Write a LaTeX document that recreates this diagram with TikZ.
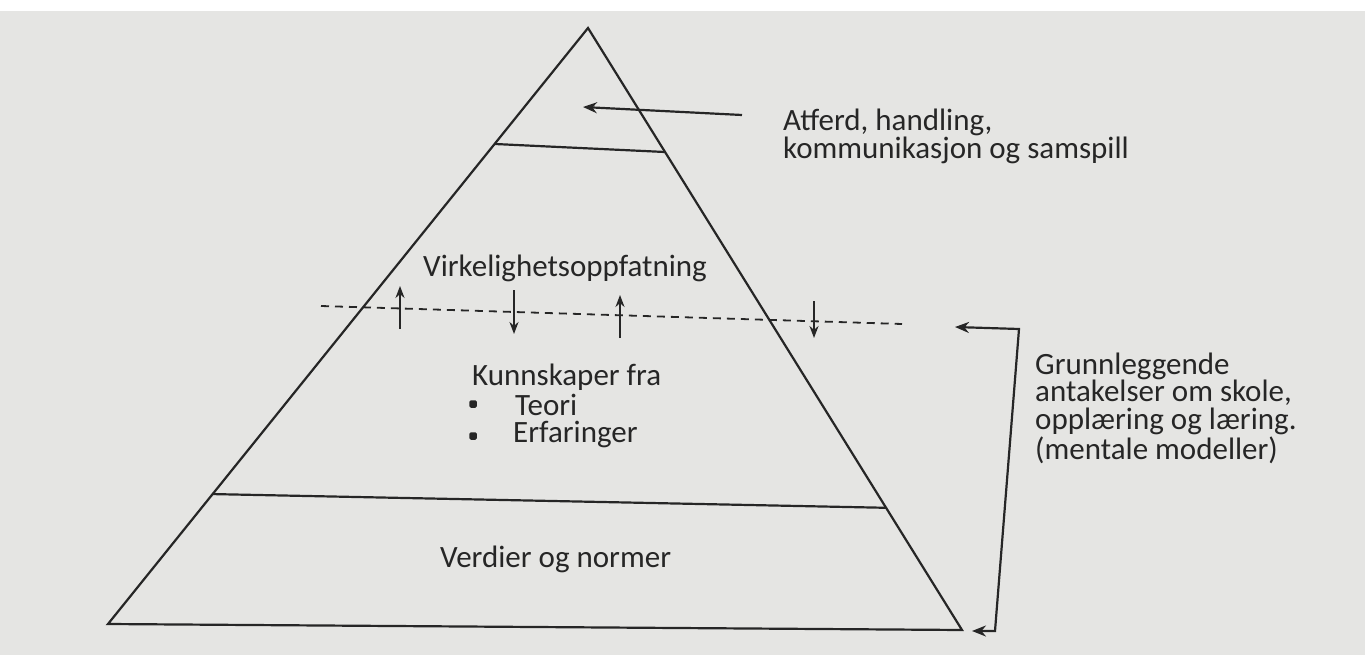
\documentclass[tikz,border=0pt]{standalone}
\usepackage{fontspec}
\setmainfont{Carlito}
\usetikzlibrary{arrows.meta,calc}
\definecolor{ink}{HTML}{262626}
\definecolor{paper}{HTML}{E5E5E3}
\begin{document}
\begin{tikzpicture}[x=1pt,y=-1pt,
  ln/.style={draw=ink, line width=2.2pt},
  lbl/.style={anchor=base west, inner sep=0pt, text=ink, align=left,
              font=\fontsize{31}{27.5}\selectfont},
  arr/.style={draw=ink, line width=2.2pt, -{Stealth[length=12pt,width=9pt]}},
  bigarr/.style={draw=ink, line width=2.2pt, -{Stealth[length=14pt,width=11pt]}},
  dot/.style={rectangle, rounded corners=1.5pt, fill=ink, inner sep=0pt, minimum size=7.5pt},
]
\fill[white] (0,0) rectangle (1365,655);
\fill[paper] (0,11) rectangle (1365,655);
\useasboundingbox (0,0) rectangle (1365,655);

% pyramid
\coordinate (A) at (588,28);
\coordinate (BL) at (108,624);
\coordinate (BR) at (962,630);
\draw[ln, line join=miter] (A) -- (BL) -- (BR) -- cycle;
\coordinate (t1) at ($(A)!0.1946!(BL)$);
\coordinate (t2) at ($(A)!0.206!(BR)$);
\coordinate (l1) at ($(A)!0.782!(BL)$);
\coordinate (l2) at ($(A)!0.797!(BR)$);
\draw[ln] (t1) -- (t2);
\draw[ln] (l1) -- (l2);

% dashed boundary
\coordinate (d1) at (321,306);
\coordinate (d2) at (902,324);
\draw[draw=ink, line width=1.8pt, dash pattern=on 8pt off 6pt] (d1) -- (d2);

% up/down arrows
\coordinate (u1a) at (400,329); \coordinate (u1b) at (400,286);
\coordinate (v1a) at (514,290); \coordinate (v1b) at (514,334);
\coordinate (u2a) at (620,338); \coordinate (u2b) at (620,295);
\coordinate (v2a) at (814,301); \coordinate (v2b) at (814,338);
\draw[arr] (u1a) -- (u1b);
\draw[arr] (v1a) -- (v1b);
\draw[arr] (u2a) -- (u2b);
\draw[arr] (v2a) -- (v2b);

% texts
\node[lbl, font=\fontsize{31}{28}\selectfont] (atferd) at (783,159) {Atferd, handling,\\kommunikasjon og samspill};
\node[lbl] (virk) at (423,276) {Virkelighetsoppfatning};
\node[lbl] (kunn) at (472,385) {Kunnskaper fra};
\node[lbl] (teori) at (515,415) {Teori};
\node[lbl] (erf) at (513,442) {Erfaringer};
\node[dot] (b1) at (473,404) {};
\node[dot] (b2) at (473,436) {};
\node[lbl] (verdier) at (440,567) {Verdier og normer};
\node[lbl, font=\fontsize{31}{28}\selectfont] (grunn) at (1035,459) {Grunnleggende\\antakelser om skole,\\opplæring og læring.\\(mentale modeller)};

% top arrow
\coordinate (ta1) at (742,115);
\coordinate (ta2) at (583,107);
\draw[bigarr] (ta1) -- (ta2);

% bracket
\coordinate (k0) at (955,327);
\coordinate (k1) at (1019,329);
\coordinate (k2) at (995,631);
\coordinate (k3) at (972,631);
\draw[draw=ink, line width=2.2pt, line join=miter,
  {Stealth[length=14pt,width=11pt]}-{Stealth[length=14pt,width=11pt]}]
  (k0) -- (k1) -- (k2) -- (k3);
\end{tikzpicture}
\end{document}
